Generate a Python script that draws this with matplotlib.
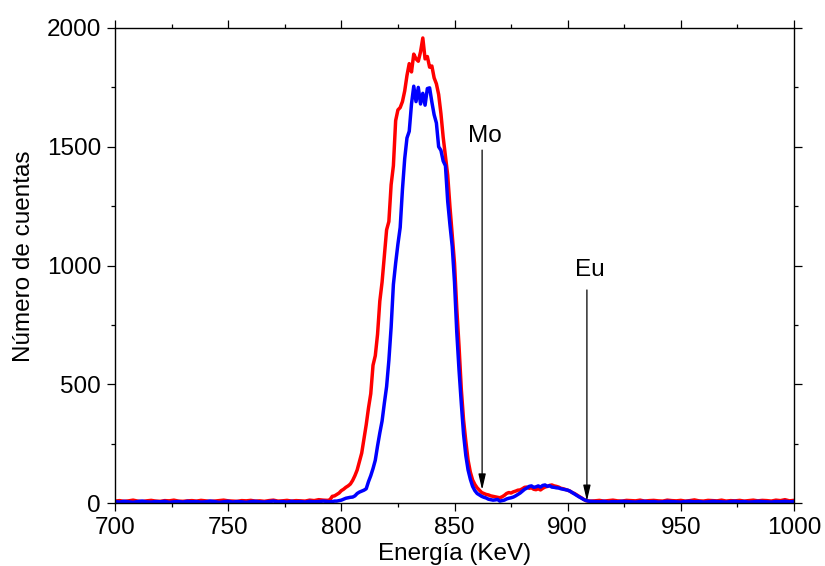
import numpy as np
import matplotlib
matplotlib.use("Agg")
import matplotlib.pyplot as plt
from matplotlib.ticker import MultipleLocator

plt.rcParams['font.family'] = ['Liberation Sans', 'DejaVu Sans']

# Energy channels (keV): coarse on the flat background, 1 keV across the peaks
energy_low = np.arange(700, 795, 2)
energy_mid = np.arange(795, 911, 1)
energy_high = np.arange(912, 1001, 2)

# Red spectrum (counts)
red_low = [8, 10, 7, 9, 12, 8, 6, 9,
           11, 8, 7, 10, 9, 12, 8, 7,
           9, 10, 8, 11, 9, 7, 8, 10,
           12, 9, 8, 7, 10, 9, 11, 8,
           9, 7, 10, 12, 8, 9, 11, 8,
           10, 9, 8, 12, 10, 14, 12, 11]
red_mid = [14, 28, 30, 36, 42, 52, 58, 66, 72, 80,
           95, 115, 139, 175, 210, 270, 330, 400, 460, 580,
           620, 710, 850, 930, 1040, 1150, 1185, 1340, 1420, 1610,
           1655, 1665, 1690, 1735, 1800, 1850, 1815, 1890, 1870, 1860,
           1900, 1958, 1870, 1880, 1835, 1840, 1790, 1765, 1720, 1640,
           1540, 1460, 1380, 1246, 1130, 1010, 820, 660, 480, 350,
           260, 180, 130, 97, 78, 64, 54, 44, 40, 36,
           34, 30, 28, 26, 24,
           22, 26, 32, 40, 44, 42, 47, 50, 54, 55,
           60, 66, 67, 62, 64, 58, 56, 60, 55, 62,
           67, 70, 74, 76, 72, 70, 67, 62, 60, 57,
           54, 50, 44, 40, 34, 28, 22, 16, 10, 9,
           8]
red_high = [9, 11, 8, 10, 12, 9, 8, 11,
            10, 9, 12, 8, 10, 11, 9, 8,
            12, 10, 9, 11, 8, 10, 13, 9,
            8, 11, 10, 9, 12, 8, 10, 9,
            11, 8, 10, 12, 9, 11, 10, 8,
            12, 10, 14, 9, 11]

# Blue spectrum (counts)
blue_low = [6, 4, 7, 5, 3, 6, 8, 5,
            4, 6, 5, 7, 3, 5, 6, 4,
            7, 5, 6, 4, 5, 8, 6, 3,
            5, 7, 4, 6, 5, 3, 6, 7,
            5, 4, 6, 8, 5, 6, 4, 7,
            5, 6, 4, 7, 5, 6, 8, 6]
blue_mid = [5, 6, 8, 8, 10, 12, 16, 20, 22, 24,
            25, 30, 40, 46, 50, 54, 60, 90, 115, 145,
            180, 240, 295, 345, 420, 490, 600, 740, 920, 1010,
            1090, 1160, 1320, 1450, 1537, 1565, 1680, 1755, 1690, 1750,
            1680, 1725, 1675, 1745, 1748, 1688, 1635, 1600, 1500, 1485,
            1440, 1420, 1270, 1170, 1080, 930, 720, 560, 420, 290,
            200, 139, 100, 70, 52, 40, 34, 28, 24, 21,
            16, 14, 12, 13, 15,
            8, 10, 12, 17, 20, 22, 25, 30, 36, 42,
            50, 58, 63, 70, 72, 66, 68, 72, 67, 74,
            76, 70, 73, 67, 66, 64, 63, 60, 58, 56,
            54, 50, 44, 38, 32, 26, 21, 15, 11, 8,
            7]
blue_high = [6, 5, 7, 4, 6, 5, 7, 6,
             5, 4, 6, 7, 5, 6, 4, 5,
             7, 6, 5, 4, 6, 7, 5, 6,
             4, 5, 7, 6, 5, 4, 6, 7,
             5, 6, 4, 5, 7, 6, 5, 4,
             6, 5, 7, 5, 6]

energy = np.concatenate([energy_low, energy_mid, energy_high])
red = np.concatenate([red_low, red_mid, red_high])
blue = np.concatenate([blue_low, blue_mid, blue_high])

# Annotated lines: label, energy, text height, arrow tail, arrow tip
lines_label = ["Mo", "Eu"]
lines_energy = [862.2, 908.5]
lines_text_y = [1520, 956]
lines_tail_y = [1486, 897]
lines_tip_y = [55, 8]

FS = 17.5

fig = plt.figure(figsize=(8.25, 5.66), dpi=100)
ax = fig.add_axes([115 / 825, 1 - 503 / 566, 679 / 825, 475 / 566])

ax.plot(energy, red, color='#ff0000', lw=2.5, solid_joinstyle='round')
ax.plot(energy, blue, color='#0000ff', lw=2.5, solid_joinstyle='round')

for lab, ex, ty, tail, tip in zip(lines_label, lines_energy, lines_text_y,
                                  lines_tail_y, lines_tip_y):
    ax.annotate('', xy=(ex, tip), xytext=(ex, tail),
                arrowprops=dict(arrowstyle='-|>,head_length=0.95,head_width=0.22',
                                mutation_scale=10, color='black', lw=0.9,
                                shrinkA=0, shrinkB=0))
    ax.text(ex + 1.2, ty, lab, ha='center', va='baseline', fontsize=FS)

ax.set_xlim(700, 1000)
ax.set_ylim(0, 2000)
ax.xaxis.set_major_locator(MultipleLocator(50))
ax.xaxis.set_minor_locator(MultipleLocator(25))
ax.yaxis.set_major_locator(MultipleLocator(500))
ax.yaxis.set_minor_locator(MultipleLocator(250))

for s in ax.spines.values():
    s.set_linewidth(1.0)

ax.tick_params(which='both', direction='out', top=True, right=True,
               labelsize=FS, width=0.9)
ax.tick_params(which='major', length=6)
ax.tick_params(which='minor', length=3)
ax.tick_params(axis='y', pad=4)
ax.tick_params(axis='x', pad=4)

ax.set_xlabel('Energía (KeV)', fontsize=FS)
ax.xaxis.set_label_coords(0.5, -0.12)
ax.xaxis.label.set_va('baseline')
ax.set_ylabel('Número de cuentas', fontsize=FS)
ax.yaxis.set_label_coords(-0.118, 0.52)

fig.savefig('out.png', dpi=100)
